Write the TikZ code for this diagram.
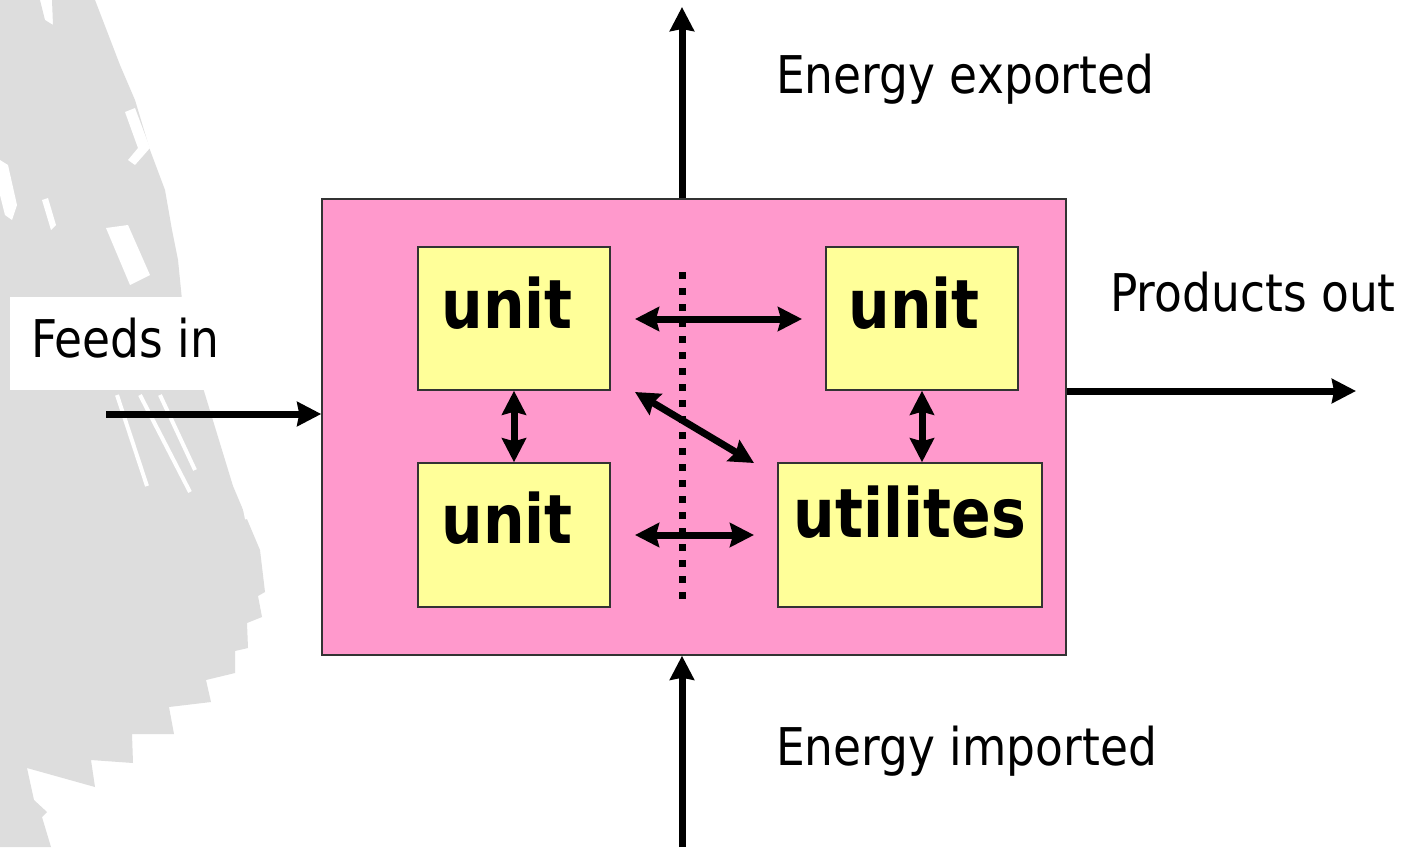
\documentclass[tikz,border=0pt]{standalone}
\usepackage{fontspec}
\usetikzlibrary{arrows.meta}
\newfontfamily\labfont{DejaVu Sans}[FakeStretch=0.875]
\newfontfamily\boxfont{DejaVu Sans Bold}[FakeStretch=0.86]
\definecolor{pinkfill}{HTML}{FF99CC}
\definecolor{yelfill}{HTML}{FFFF99}
\definecolor{blob}{HTML}{DDDDDD}
\begin{document}
\begin{tikzpicture}[x=1pt,y=-1pt,
  flow/.style={line width=7pt,-{Stealth[length=24pt,width=24pt,inset=2pt]}},
  dflow/.style={line width=7pt,{Stealth[length=24pt,width=24pt,inset=3pt]}-{Stealth[length=24pt,width=24pt,inset=3pt]}},
  unitbox/.style={draw=black!80,line width=1.5pt,fill=yelfill},
  unittext/.style={font={\boxfont\fontsize{68}{70}\selectfont},inner sep=0pt,anchor=base},
  labtext/.style={font={\labfont\fontsize{52}{56}\selectfont},inner sep=0pt,anchor=base west}]
\useasboundingbox (0,0) rectangle (1412,847);
\fill[white] (0,0) rectangle (1412,847);
% decorative grey silhouette
\fill[blob] (0,0) -- (40,0) -- (45,20) -- (53,25) -- (52,0) -- (95,0) -- (120,65) -- (135,100) -- (150,150) -- (165,190) -- (172,230) -- (178,260) -- (182,300) -- (200,378) -- (233,486) -- (260,550) -- (265,592) -- (258,596) -- (262,617) -- (247,623) -- (248,648) -- (235,651) -- (235,673) -- (206,680) -- (211,702) -- (169,707) -- (174,734) -- (132,734) -- (133,763) -- (91,760) -- (95,787) -- (27,768) -- (34,800) -- (47,812) -- (42,817) -- (51,847) -- (0,847) -- cycle;
\fill[white] (0,160) -- (8,165) -- (17,205) -- (12,220) -- (5,215) -- (0,195) -- cycle;
\fill[white] (42,200) -- (48,198) -- (56,225) -- (51,230) -- cycle;
\fill[white] (125,112) -- (135,108) -- (150,148) -- (135,165) -- (128,160) -- (138,148) -- cycle;
\fill[white] (106,228) -- (128,225) -- (150,275) -- (130,285) -- cycle;
\foreach \a/\b/\c/\d in {117/395/147/486, 140/395/190/492, 160/395/195/470, 233/449/247/519}
  \draw[white,line width=4pt] (\a,\b) -- (\c,\d);
% Feeds in label with white background
\fill[white] (10,297) rectangle (235,390);
% main box
\node[draw=black!80,line width=1.5pt,fill=pinkfill,minimum width=744pt,minimum height=456pt,inner sep=0pt] (plant) at (694,427) {};
% unit boxes
\node[unitbox,minimum width=192pt,minimum height=143pt,inner sep=0pt] (u1) at (514,318.5) {};
\node[unitbox,minimum width=192pt,minimum height=144pt,inner sep=0pt] (u2) at (514,535) {};
\node[unitbox,minimum width=192pt,minimum height=143pt,inner sep=0pt] (u3) at (922,318.5) {};
\node[unitbox,minimum width=264pt,minimum height=144pt,inner sep=0pt] (ut) at (910,535) {};
\node[unittext] (t1) at (507,328) {unit};
\node[unittext] (t2) at (507,543) {unit};
\node[unittext] (t3) at (914,328) {unit};
\node[unittext] (t4) at (910,537) {utilites};
% labels
\node[labtext] (lfeed) at (31,357) {Feeds in};
\node[labtext] (lprod) at (1110,311) {Products out};
\node[labtext] (lexp) at (776,93) {Energy exported};
\node[labtext] (limp) at (776,765) {Energy imported};
% coordinates
\coordinate (feedstart) at (106,414);
\coordinate (feedend) at (plant.west |- feedstart);
\coordinate (prodend) at (1356,391);
\coordinate (prodstart) at (plant.east |- prodend);
\coordinate (expend) at (682,7);
\coordinate (expstart) at (plant.north -| expend);
\coordinate (impstart) at (682,847);
\coordinate (impend) at (plant.south -| impstart);
\coordinate (dotA) at (682,272);
\coordinate (dotB) at (682,601);
\coordinate (hA) at (635,319);
\coordinate (hB) at (802,319);
\coordinate (dA) at (635,392);
\coordinate (dB) at (754,463);
\coordinate (bA) at (635,535);
\coordinate (bB) at (754,535);
% flows
\draw[flow] (feedstart) -- (feedend);
\draw[flow] (prodstart) -- (prodend);
\draw[flow] (expstart) -- (expend);
\draw[flow] (impstart) -- (impend);
\draw[line width=7pt,dash pattern=on 7pt off 9pt] (dotA) -- (dotB);
\draw[dflow] (hA) -- (hB);
\draw[dflow] (dA) -- (dB);
\draw[dflow] (bA) -- (bB);
\draw[dflow] (u1.south) -- (u2.north);
\draw[dflow] (u3.south) -- (u3.south |- ut.north);
\end{tikzpicture}
\end{document}
